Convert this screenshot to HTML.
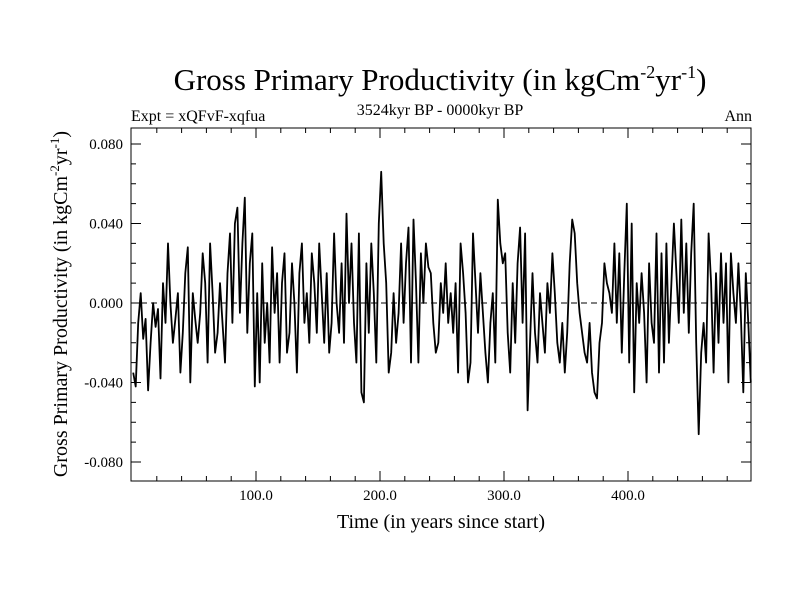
<!DOCTYPE html>
<html><head><meta charset="utf-8"><style>
body{margin:0;background:#fff}
svg{display:block;font-family:"Liberation Serif",serif}
</style></head><body>
<svg id="chart" width="800" height="600" viewBox="0 0 800 600">
<rect width="800" height="600" fill="#fff"/>
<text x="440" y="90" font-size="31" text-anchor="middle">Gross Primary Productivity (in kgCm<tspan dy="-12" font-size="18">-2</tspan><tspan dy="12">yr</tspan><tspan dy="-12" font-size="18">-1</tspan><tspan dy="12">)</tspan></text>
<text x="131" y="121" font-size="16">Expt = xQFvF-xqfua</text>
<text x="440" y="115" font-size="16" text-anchor="middle">3524kyr BP - 0000kyr BP</text>
<text x="752" y="121" font-size="16" text-anchor="end">Ann</text>
<text x="441" y="528" font-size="20" text-anchor="middle">Time (in years since start)</text>
<text transform="translate(67,304) rotate(-90)" font-size="20" text-anchor="middle">Gross Primary Productivity (in kgCm<tspan dy="-8" font-size="13">-2</tspan><tspan dy="8">yr</tspan><tspan dy="-8" font-size="13">-1</tspan><tspan dy="8">)</tspan></text>
<g id="ticks"></g>
<line x1="131" x2="751" y1="303" y2="303" stroke="#000" stroke-dasharray="6,4" stroke-width="1"/>
<path id="series" fill="none" stroke="#000" stroke-width="1.8" stroke-linejoin="round"/>
<rect x="131" y="128" width="620" height="353" fill="none" stroke="#000" stroke-width="1"/>
</svg>
<script>
const xTickValues=[100,200,300,400];
const xTickLabels=["100.0","200.0","300.0","400.0"];
const yTickValues=[0.08,0.04,0,-0.04,-0.08];
const yTickLabels=["0.080","0.040","0.000","-0.040","-0.080"];
const startYear=1, stepYears=2;
const gppValues=[
-35,-42,-10,5,-18,-8,-44,-20,0,-12,-3,-38,10,-10,30,0,-20,-8,5,-35,-15,15,28,-40,5,-8,-20,-5,25,10,-30,30,5,-25,-15,10,-10,-30,15,35,-10,40,48,-5,30,53,-15,20,35,-42,
5,-40,20,-20,0,-30,28,-5,15,-30,10,25,-25,-15,20,0,-35,15,30,-10,5,-20,25,10,-15,30,5,-20,15,-25,-10,35,0,-15,20,-20,45,0,30,-10,-30,35,-45,-50,20,-15,30,5,-30,40,
66,30,10,-35,-25,5,-20,-5,30,-10,20,38,-30,42,10,-30,25,0,30,18,15,-10,-25,-20,10,-5,20,-10,5,-15,10,-35,30,15,-5,-40,-30,35,10,-15,15,-5,-25,-40,-10,5,-30,52,30,20,
25,-15,-35,10,-20,20,38,-10,35,-54,-20,15,-15,-30,5,-10,-25,10,-5,25,5,-20,-30,-10,-35,-15,20,42,35,10,-5,-15,-25,-30,-10,-35,-45,-48,-20,-10,20,10,5,-5,30,-10,25,-25,15,50,
-30,40,-45,10,-10,15,-5,-40,20,-10,-20,35,-35,25,-30,30,-20,10,40,15,-10,42,-5,30,-15,25,50,-20,-66,-25,-10,-30,35,10,-35,15,-20,25,-10,20,-40,25,5,-10,20,-5,-45,15,-10,-40
];
const X0=131,X1=751,Y0=128,Y1=481;
const xs=v=>256+(v-100)*1.24;
const ys=v=>303-v*1987.5;
const ns="http://www.w3.org/2000/svg";
const svg=document.getElementById('chart');
const tg=document.getElementById('ticks');
function ln(x1,y1,x2,y2,name){const l=document.createElementNS(ns,'line');
l.setAttribute('x1',x1);l.setAttribute('y1',y1);l.setAttribute('x2',x2);l.setAttribute('y2',y2);
l.setAttribute('stroke','#000');l.setAttribute('stroke-width','1');


tg.appendChild(l);}
function tx(x,y,s,anchor,name){const t=document.createElementNS(ns,'text');
t.setAttribute('x',x);t.setAttribute('y',y);t.setAttribute('font-size','15');t.setAttribute('text-anchor',anchor);t.textContent=s;


svg.appendChild(t);}
for(let v=20;v<500;v+=20){const x=xs(v);const major=v%100===0;const L=major?10:5;
ln(x,Y1,x,Y1-L,'x-tick');ln(x,Y0,x,Y0+L,'x-tick-top');}
for(let k=-8;k<=8;k++){const y=ys(k/100);const major=k%4===0;const L=major?10:5;
ln(X0,y,X0+L,y,'y-tick');ln(X1,y,X1-L,y,'y-tick-right');}
xTickValues.forEach((v,i)=>tx(xs(v),500,xTickLabels[i],'middle','x-tick-label'));
yTickValues.forEach((v,i)=>tx(123,ys(v)+5,yTickLabels[i],'end','y-tick-label'));
let d='';gppValues.forEach((v,i)=>{const x=xs(startYear+i*stepYears),y=ys(v/1000);d+=(i?'L':'M')+x.toFixed(1)+' '+y.toFixed(1);});
document.getElementById('series').setAttribute('d',d);
</script>
</body></html>
